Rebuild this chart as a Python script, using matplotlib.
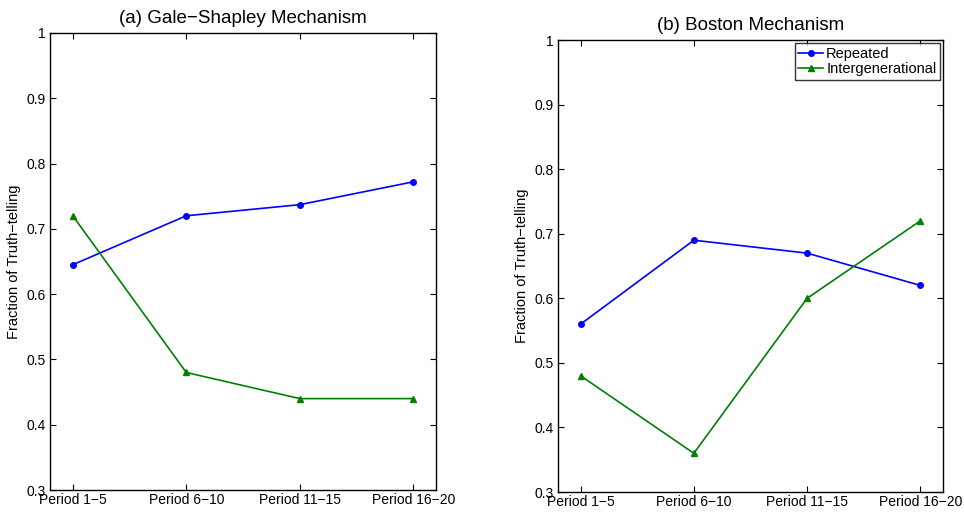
import matplotlib.pyplot as plt
from matplotlib.ticker import FuncFormatter

plt.rcParams['font.family'] = ['Liberation Sans', 'DejaVu Sans']

periods = ['Period 1\u22125', 'Period 6\u221210', 'Period 11\u221215', 'Period 16\u221220']
xs = [1, 2, 3, 4]

gs_repeated = [0.645, 0.72, 0.737, 0.772]
gs_intergen = [0.72, 0.48, 0.44, 0.44]

bos_repeated = [0.56, 0.69, 0.67, 0.62]
bos_intergen = [0.48, 0.36, 0.60, 0.72]

yticks = [0.3, 0.4, 0.5, 0.6, 0.7, 0.8, 0.9, 1.0]


def fmt(v, pos):
    return '%g' % v


fig = plt.figure(figsize=(9.64, 5.13), dpi=100)
ax1 = fig.add_axes([0.0519, 0.0448, 0.4004, 0.891])
ax2 = fig.add_axes([0.5788, 0.0409, 0.3994, 0.881])

panels = [
    (ax1, gs_repeated, gs_intergen, '(a) Gale\u2212Shapley Mechanism'),
    (ax2, bos_repeated, bos_intergen, '(b) Boston Mechanism'),
]

for ax, rep, inter, title in panels:
    ax.plot(xs, rep, color='blue', marker='o', markersize=4, lw=1.2, label='Repeated')
    ax.plot(xs, inter, color='green', marker='^', markersize=5, lw=1.2, label='Intergenerational')
    ax.set_xlim(0.8, 4.2)
    ax.set_ylim(0.3, 1.0)
    ax.set_xticks(xs)
    ax.set_xticklabels(periods)
    ax.set_yticks(yticks)
    ax.yaxis.set_major_formatter(FuncFormatter(fmt))
    ax.tick_params(direction='in', top=True, right=True, labelsize=10, length=4, pad=3)
    ax.tick_params(axis='x', pad=2)
    ax.set_ylabel('Fraction of Truth\u2212telling', fontsize=10.5)
    ax.set_title(title, fontsize=13.5, pad=7)
    for sp in ax.spines.values():
        sp.set_linewidth(1.0)

leg = ax2.legend(loc='upper right', fontsize=10.5, frameon=True, fancybox=False,
                 borderaxespad=0.2, handlelength=1.7, handletextpad=0.2,
                 borderpad=0.25, labelspacing=0.1)
leg.get_frame().set_edgecolor('black')
leg.get_frame().set_linewidth(1.0)

fig.savefig('out.png', dpi=100)
